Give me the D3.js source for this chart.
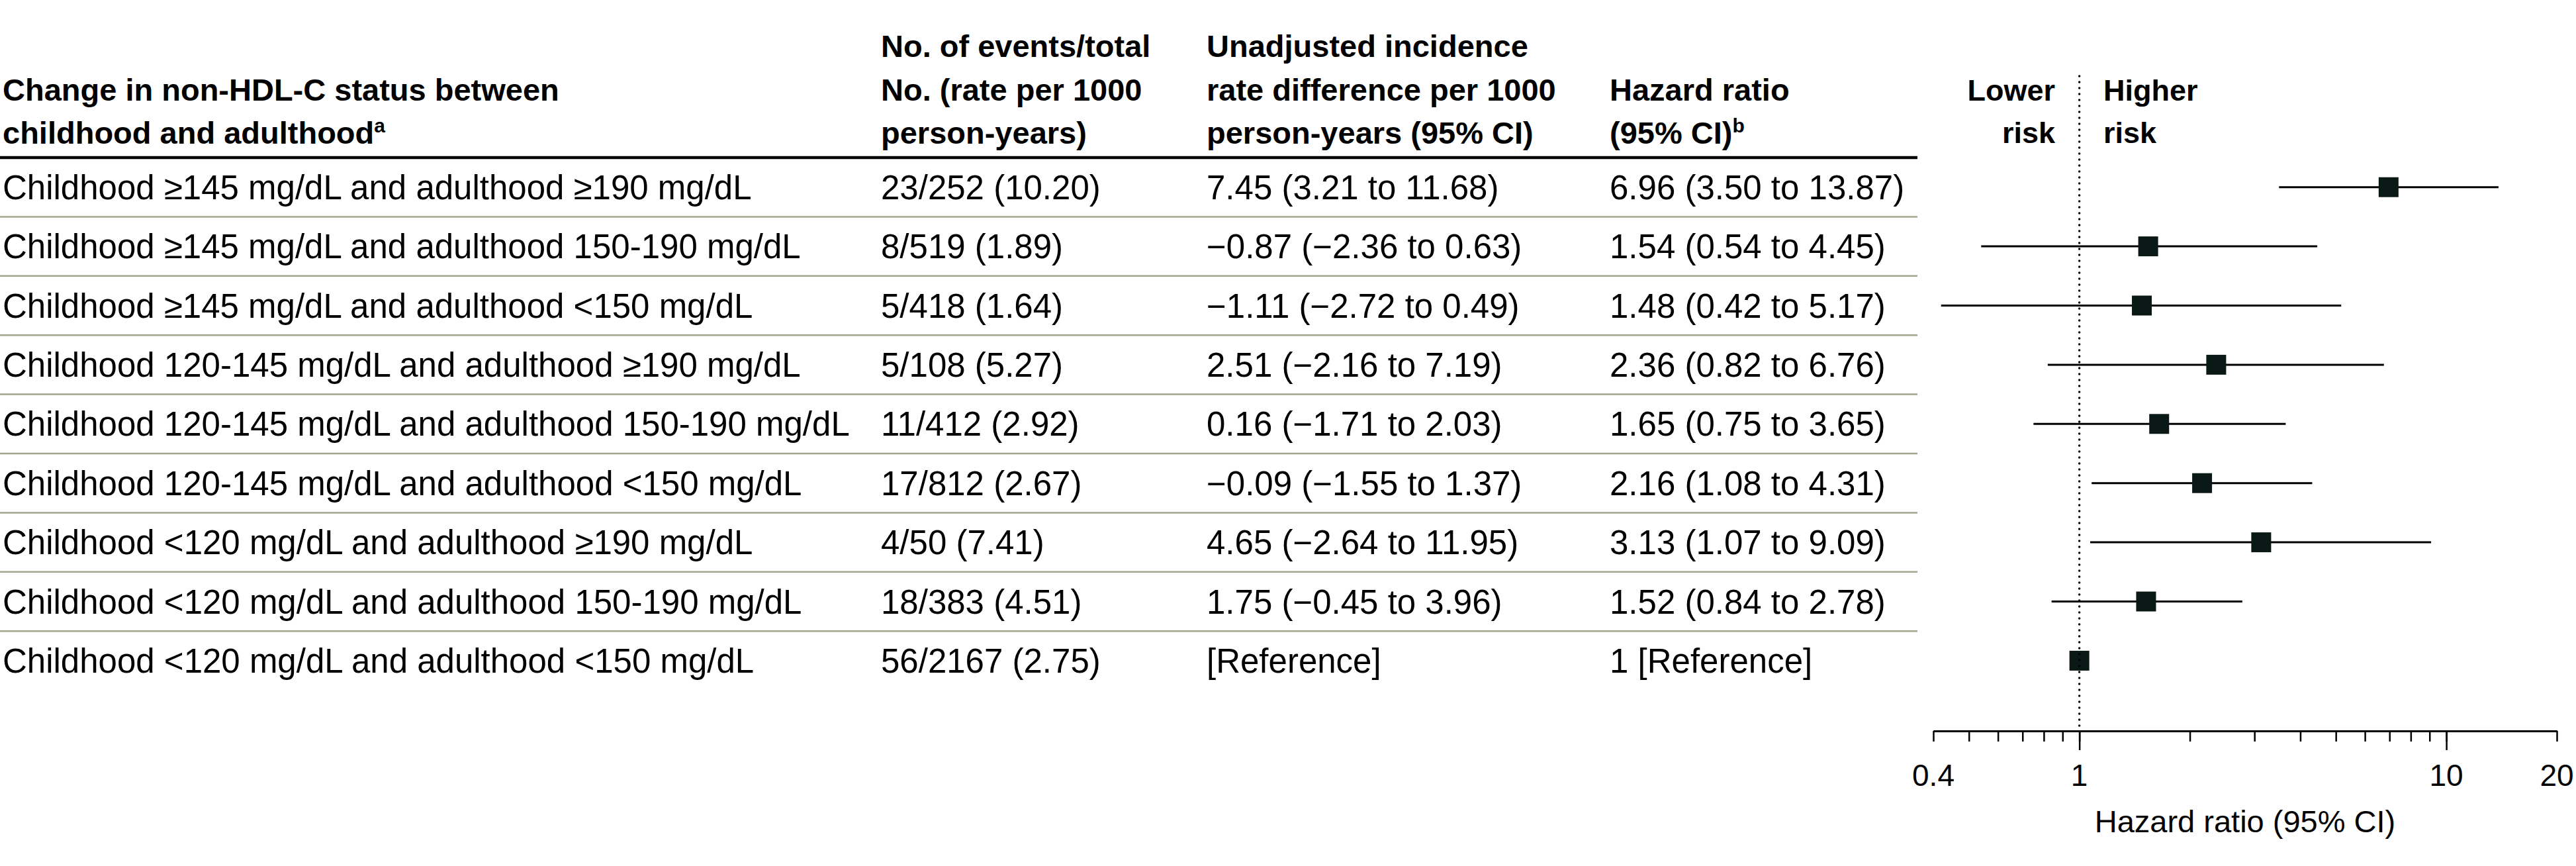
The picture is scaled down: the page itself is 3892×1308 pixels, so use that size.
<!DOCTYPE html>
<html>
<head>
<meta charset="utf-8">
<script src="https://cdn.jsdelivr.net/npm/d3@7"></script>
<style>
  body { margin: 0; background: #fff; }
  svg { display: block; font-family: "Liberation Sans", Arial, sans-serif; }
</style>
</head>
<body>
<svg id="chart"></svg>
<script>
// table rows, top to bottom
const groups = [
    'Childhood ≥145 mg/dL and adulthood ≥190 mg/dL',
    'Childhood ≥145 mg/dL and adulthood 150-190 mg/dL',
    'Childhood ≥145 mg/dL and adulthood <150 mg/dL',
    'Childhood 120-145 mg/dL and adulthood ≥190 mg/dL',
    'Childhood 120-145 mg/dL and adulthood 150-190 mg/dL',
    'Childhood 120-145 mg/dL and adulthood <150 mg/dL',
    'Childhood <120 mg/dL and adulthood ≥190 mg/dL',
    'Childhood <120 mg/dL and adulthood 150-190 mg/dL',
    'Childhood <120 mg/dL and adulthood <150 mg/dL'
];
const events = ['23/252 (10.20)', '8/519 (1.89)', '5/418 (1.64)', '5/108 (5.27)', '11/412 (2.92)',
    '17/812 (2.67)', '4/50 (7.41)', '18/383 (4.51)', '56/2167 (2.75)'];
const rateDiff = ['7.45 (3.21 to 11.68)', '−0.87 (−2.36 to 0.63)', '−1.11 (−2.72 to 0.49)',
    '2.51 (−2.16 to 7.19)', '0.16 (−1.71 to 2.03)', '−0.09 (−1.55 to 1.37)',
    '4.65 (−2.64 to 11.95)', '1.75 (−0.45 to 3.96)', '[Reference]'];
const hr = [6.96, 1.54, 1.48, 2.36, 1.65, 2.16, 3.13, 1.52, 1];
const hrLow = [3.50, 0.54, 0.42, 0.82, 0.75, 1.08, 1.07, 0.84, null];
const hrHigh = [13.87, 4.45, 5.17, 6.76, 3.65, 4.31, 9.09, 2.78, null];
const hrText = ['6.96 (3.50 to 13.87)', '1.54 (0.54 to 4.45)', '1.48 (0.42 to 5.17)',
    '2.36 (0.82 to 6.76)', '1.65 (0.75 to 3.65)', '2.16 (1.08 to 4.31)',
    '3.13 (1.07 to 9.09)', '1.52 (0.84 to 2.78)', '1 [Reference]'];

const allTicks = [0.4, 0.5, 0.6, 0.7, 0.8, 0.9, 1, 2, 3, 4, 5, 6, 7, 8, 9, 10, 20];
const majorTicks = [1, 10];
const tickLabels = [0.4, 1, 10, 20];

const W = 3892, H = 1308;
const svg = d3.select('#chart').attr('width', W).attr('height', H);
svg.append('rect').attr('width', W).attr('height', H).attr('fill', '#fff');

const TABLE_RIGHT = 2897;
const HEAD_RULE = 238;
const ROW_H = 89.4;
const colX = [4, 1331, 1823, 2432];

const y = d3.scaleBand()
    .domain(d3.range(groups.length))
    .range([HEAD_RULE, HEAD_RULE + ROW_H * groups.length]);

const x = d3.scaleLog().domain([0.4, 20]).range([2921, 3863]);

// header
const headers = [
    [null, 'Change in non-HDL-C status between', ['childhood and adulthood', 'a']],
    ['No. of events/total', 'No. (rate per 1000', 'person-years)'],
    ['Unadjusted incidence', 'rate difference per 1000', 'person-years (95% CI)'],
    [null, 'Hazard ratio', ['(95% CI)', 'b']]
];
const headBase = [86, 152, 217];
headers.forEach((lines, c) => {
    lines.forEach((ln, k) => {
        if (ln === null) return;
        const t = svg.append('text')
            .attr('x', colX[c]).attr('y', headBase[k])
            .style('font-size', '47px').style('font-weight', 'bold');
        if (Array.isArray(ln)) {
            t.append('tspan').text(ln[0]);
            t.append('tspan').text(ln[1]).attr('dy', -17).style('font-size', '30px');
        } else {
            t.text(ln);
        }
    });
});

svg.append('line')
    .attr('x1', 0).attr('x2', TABLE_RIGHT)
    .attr('y1', HEAD_RULE).attr('y2', HEAD_RULE)
    .style('stroke', '#000').style('stroke-width', 4.5);

// body rows
const rows = svg.append('g').selectAll('g')
    .data(groups.map((g, i) => i))
    .join('g')
    .attr('transform', i => `translate(0,${y(i) + y.bandwidth() / 2})`);

[groups, events, rateDiff, hrText].forEach((col, c) => {
    rows.append('text')
        .attr('x', colX[c]).attr('y', 18)
        .style('font-size', '51px')
        .text(i => col[i]);
});

rows.filter(i => i < groups.length - 1)
    .append('line')
    .attr('x1', 0).attr('x2', TABLE_RIGHT)
    .attr('y1', y.bandwidth() / 2).attr('y2', y.bandwidth() / 2)
    .style('stroke', '#a3a68c').style('stroke-width', 2.5);

// forest plot
const axisY = 1104;
svg.append('line')
    .attr('x1', x(1)).attr('x2', x(1))
    .attr('y1', 115).attr('y2', axisY - 6)
    .style('stroke', '#000').style('stroke-width', 3.5)
    .style('stroke-linecap', 'round')
    .style('stroke-dasharray', '0,9');

svg.append('text').attr('x', 3105).attr('y', 152).attr('text-anchor', 'end')
    .style('font-size', '45px').style('font-weight', 'bold').text('Lower');
svg.append('text').attr('x', 3105).attr('y', 216).attr('text-anchor', 'end')
    .style('font-size', '45px').style('font-weight', 'bold').text('risk');
svg.append('text').attr('x', 3178).attr('y', 152)
    .style('font-size', '45px').style('font-weight', 'bold').text('Higher');
svg.append('text').attr('x', 3178).attr('y', 216)
    .style('font-size', '45px').style('font-weight', 'bold').text('risk');

rows.filter(i => hrLow[i] !== null)
    .append('line')
    .attr('x1', i => x(hrLow[i])).attr('x2', i => x(hrHigh[i]))
    .attr('y1', 0).attr('y2', 0)
    .style('stroke', '#000').style('stroke-width', 3);

const SQ = 30;
rows.append('rect')
    .attr('x', i => x(hr[i]) - SQ / 2).attr('y', -SQ / 2)
    .attr('width', SQ).attr('height', SQ)
    .style('fill', '#0a1816');

// axis
const minorAxis = d3.axisBottom(x).tickValues(allTicks).tickSize(16).tickFormat('').tickSizeOuter(0);
const majorAxis = d3.axisBottom(x).tickValues(majorTicks).tickSize(29).tickFormat('').tickSizeOuter(0);

const gMinor = svg.append('g').attr('transform', `translate(0,${axisY})`).call(minorAxis);
const gMajor = svg.append('g').attr('transform', `translate(0,${axisY})`).call(majorAxis);
[gMinor, gMajor].forEach(g => {
    g.select('.domain').style('stroke', '#000').style('stroke-width', 3);
    g.selectAll('.tick line').style('stroke', '#000').style('stroke-width', 2.5);
});

svg.append('g').selectAll('text')
    .data(tickLabels)
    .join('text')
    .attr('x', d => x(d)).attr('y', 1187)
    .attr('text-anchor', 'middle')
    .style('font-size', '46px')
    .text(d => d);

svg.append('text')
    .attr('x', (x(0.4) + x(20)) / 2).attr('y', 1257)
    .attr('text-anchor', 'middle')
    .style('font-size', '47px')
    .text('Hazard ratio (95% CI)');
</script>
</body>
</html>
